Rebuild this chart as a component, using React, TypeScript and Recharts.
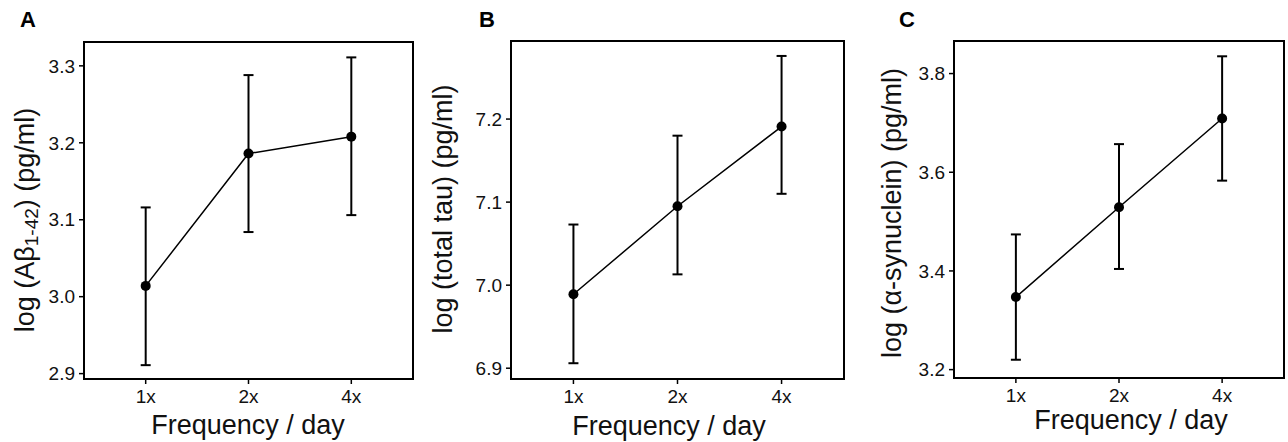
import { ComposedChart, Line, XAxis, YAxis, ErrorBar, ReferenceArea } from "recharts";

const FREQUENCIES = ["1x", "2x", "4x"];

// panel A: log(Abeta 1-42)
const ABETA_MEAN = [3.014, 3.186, 3.208];
const ABETA_LOW = [2.911, 3.084, 3.106];
const ABETA_HIGH = [3.116, 3.288, 3.311];
const ABETA_TICKS = [2.9, 3.0, 3.1, 3.2, 3.3];

// panel B: log(total tau)
const TAU_MEAN = [6.989, 7.095, 7.191];
const TAU_LOW = [6.906, 7.013, 7.11];
const TAU_HIGH = [7.073, 7.18, 7.276];
const TAU_TICKS = [6.9, 7.0, 7.1, 7.2];

// panel C: log(alpha-synuclein)
const SYN_MEAN = [3.347, 3.529, 3.709];
const SYN_LOW = [3.22, 3.404, 3.583];
const SYN_HIGH = [3.474, 3.657, 3.835];
const SYN_TICKS = [3.2, 3.4, 3.6, 3.8];

const FONT = '"Liberation Sans", Arial, sans-serif';
const H = 442;
const TITLE_SIZE = 27;

const buildRows = (mean: number[], low: number[], high: number[]) =>
  FREQUENCIES.map((_, i) => ({
    x: i + 1,
    mean: mean[i],
    err: [mean[i] - low[i], high[i] - mean[i]],
  }));

// recharts clones label elements with its own x/y/content, so positions go in other prop names
function XTitle({ cx, cy, text }: { cx: number; cy: number; text: string }) {
  return (
    <text x={cx} y={cy} textAnchor="middle" fontFamily={FONT} fontSize={TITLE_SIZE} fill="#111">
      {text}
    </text>
  );
}

function YTitle({ cx, cy, body }: { cx: number; cy: number; body: React.ReactNode }) {
  return (
    <text
      x={cx}
      y={cy}
      transform={`rotate(-90 ${cx} ${cy})`}
      textAnchor="middle"
      dominantBaseline="central"
      fontFamily={FONT}
      fontSize={TITLE_SIZE}
      fill="#111"
    >
      {body}
    </text>
  );
}

interface PanelProps {
  letter: string;
  letterX: number;
  left: number;
  boxLeft: number;
  boxRight: number;
  boxTop: number;
  boxBottom: number;
  domain: [number, number];
  ticks: number[];
  rows: { x: number; mean: number; err: number[] }[];
  yLabel: React.ReactNode;
  yLabelX: number;
  yLabelY: number;
  xLabelX: number;
  xLabelY: number;
}

function Panel(p: PanelProps) {
  const yAxisWidth = p.boxLeft - p.left;
  const width = p.boxRight - p.left + 4;
  return (
    <div style={{ position: "absolute", left: p.left, top: 0, width, height: H }}>
      <div
        style={{
          position: "absolute",
          left: p.letterX - p.left,
          top: 8,
          fontFamily: FONT,
          fontWeight: "bold",
          fontSize: 22,
          lineHeight: "24px",
          color: "#000",
        }}
      >
        {p.letter}
      </div>
      <ComposedChart
        width={width}
        height={H}
        data={p.rows}
        margin={{ top: p.boxTop, right: 4, bottom: 0, left: 0 }}
      >
        <XAxis
          dataKey="x"
          type="number"
          domain={[0.4, 3.6]}
          ticks={[1, 2, 3]}
          interval={0}
          tickFormatter={(v: number) => FREQUENCIES[v - 1]}
          height={H - p.boxBottom}
          axisLine={false}
          tickSize={5}
          tickMargin={6}
          tickLine={{ stroke: "#000", strokeWidth: 1.5 }}
          tick={{ fill: "#111", fontSize: 19, fontFamily: FONT }}
          label={<XTitle cx={p.xLabelX - p.left} cy={p.xLabelY} text="Frequency / day" />}
        />
        <YAxis
          type="number"
          domain={p.domain}
          ticks={p.ticks}
          allowDataOverflow
          interval={0}
          width={yAxisWidth}
          axisLine={false}
          tickSize={5}
          tickMargin={4}
          tickLine={{ stroke: "#000", strokeWidth: 1.5 }}
          tickFormatter={(v: number) => v.toFixed(1)}
          tick={{ fill: "#111", fontSize: 19, fontFamily: FONT }}
          label={<YTitle cx={p.yLabelX - p.left} cy={p.yLabelY} body={p.yLabel} />}
        />
        <ReferenceArea
          x1={0.4}
          x2={3.6}
          y1={p.domain[0]}
          y2={p.domain[1]}
          fill="none"
          stroke="#000"
          strokeWidth={2}
          ifOverflow="visible"
        />
        <Line
          dataKey="mean"
          stroke="#000"
          strokeWidth={1.5}
          dot={{ r: 5, fill: "#000", stroke: "#000", strokeWidth: 0 }}
          activeDot={false}
          isAnimationActive={false}
        >
          <ErrorBar dataKey="err" direction="y" width={5} stroke="#000" strokeWidth={2} />
        </Line>
      </ComposedChart>
    </div>
  );
}

export default function App() {
  return (
    <div style={{ position: "absolute", left: 0, top: 0, width: 1288, height: H, background: "#fff" }}>
      <Panel
        letter="A"
        letterX={20}
        left={0}
        boxLeft={84}
        boxRight={413}
        boxTop={42}
        boxBottom={379}
        domain={[2.893, 3.331]}
        ticks={ABETA_TICKS}
        rows={buildRows(ABETA_MEAN, ABETA_LOW, ABETA_HIGH)}
        yLabel={
          <>
            <tspan>log (Aβ</tspan>
            <tspan fontSize={19} dy={6}>1-42</tspan>
            <tspan dy={-6}>) (pg/ml)</tspan>
          </>
        }
        yLabelX={25}
        yLabelY={220}
        xLabelX={248}
        xLabelY={434}
      />
      <Panel
        letter="B"
        letterX={479}
        left={420}
        boxLeft={511}
        boxRight={844}
        boxTop={41}
        boxBottom={379}
        domain={[6.887, 7.294]}
        ticks={TAU_TICKS}
        rows={buildRows(TAU_MEAN, TAU_LOW, TAU_HIGH)}
        yLabel="log (total tau) (pg/ml)"
        yLabelX={443}
        yLabelY={209}
        xLabelX={669}
        xLabelY={435}
      />
      <Panel
        letter="C"
        letterX={899}
        left={860}
        boxLeft={954}
        boxRight={1284}
        boxTop={41}
        boxBottom={378}
        domain={[3.183, 3.866]}
        ticks={SYN_TICKS}
        rows={buildRows(SYN_MEAN, SYN_LOW, SYN_HIGH)}
        yLabel="log (α-synuclein) (pg/ml)"
        yLabelX={892}
        yLabelY={213}
        xLabelX={1131}
        xLabelY={429}
      />
    </div>
  );
}
